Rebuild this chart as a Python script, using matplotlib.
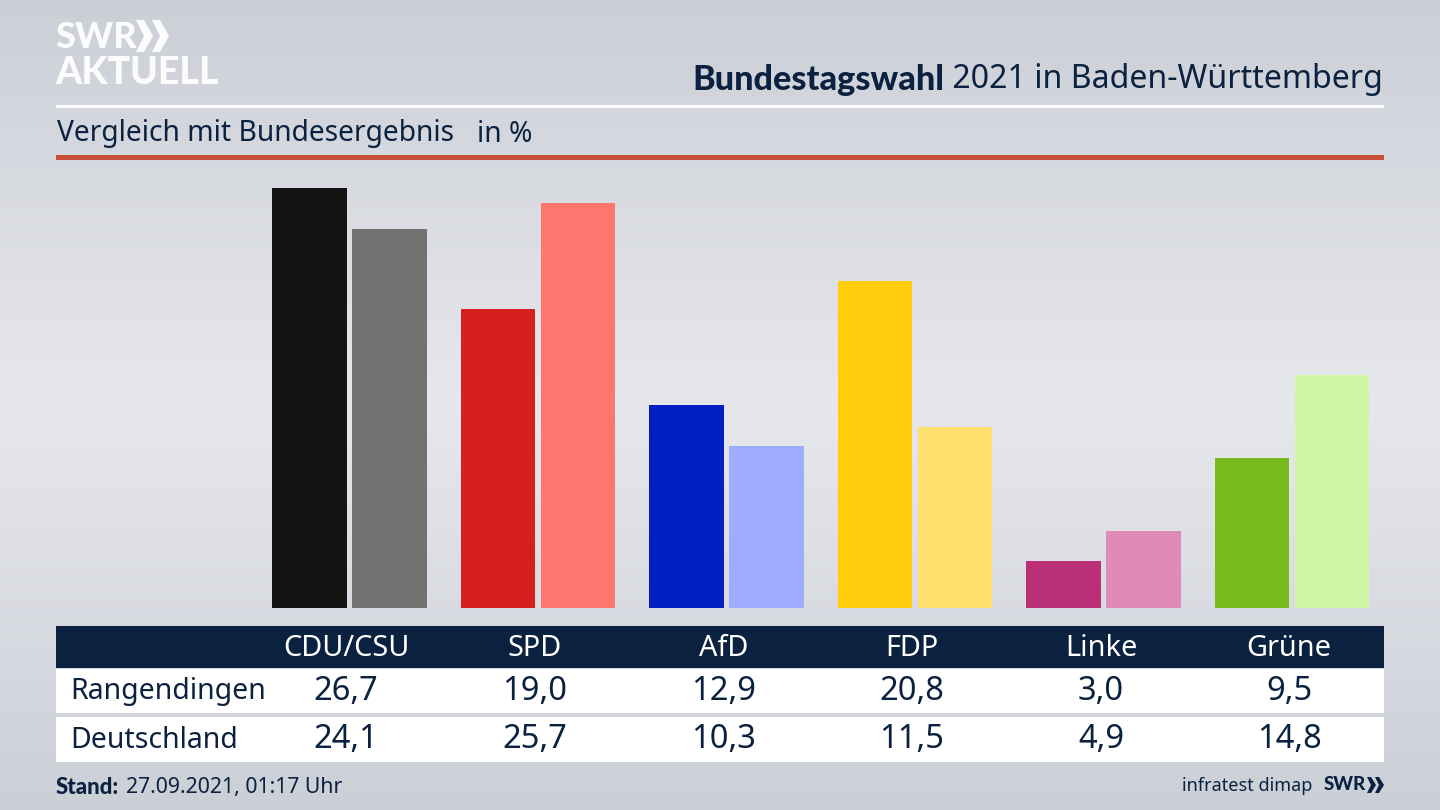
import numpy as np
import matplotlib
matplotlib.use("Agg")
import matplotlib.pyplot as plt
from matplotlib.patches import Rectangle, Polygon

# data
parties = ["CDU/CSU", "SPD", "AfD", "FDP", "Linke", "Grüne"]
rangendingen = [26.7, 19.0, 12.9, 20.8, 3.0, 9.5]
deutschland = [24.1, 25.7, 10.3, 11.5, 4.9, 14.8]
row_names = ["Rangendingen", "Deutschland"]
colors_local = ["#141414", "#d71f1f", "#0020c4", "#ffcd0a", "#bb2f77", "#77bc1f"]
colors_federal = ["#72716f", "#ff7570", "#9eadff", "#ffe06e", "#e08ab8", "#d2f6a8"]

NAVY = "#0b2140"
BOLD = ["Lato", "DejaVu Sans"]
plt.rcParams["font.family"] = ["Noto Sans", "DejaVu Sans"]

fig = plt.figure(figsize=(14.4, 8.1), dpi=100)

# background gradient
bg = fig.add_axes([0, 0, 1, 1], zorder=0)
stops = np.interp(np.linspace(0, 1, 256), [0, 0.5, 1], [0, 1, 0])
low, high = np.array([0xcb, 0xcf, 0xd6]) / 255, np.array([0xe7, 0xe8, 0xed]) / 255
grad = low + (high - low) * stops[:, None]
bg.imshow(grad[:, None, :], aspect="auto", extent=[0, 1440, 810, 0])
bg.set_xlim(0, 1440)
bg.set_ylim(810, 0)
bg.axis("off")

# lines, table bands
bg.add_patch(Rectangle((56, 105), 1328, 2.5, color="white", lw=0))
bg.add_patch(Rectangle((56, 155), 1328, 5, color="#c9503b", lw=0))
bg.add_patch(Rectangle((56, 626), 1328, 42, color=NAVY, lw=0))
bg.add_patch(Rectangle((56, 669), 1328, 44, color="white", lw=0))
bg.add_patch(Rectangle((56, 717), 1328, 45, color="white", lw=0))

# logo
bg.text(55, 37, "SWR", color="white", family=BOLD, fontsize=26, fontweight="black", va="center", ha="left", alpha=0.95)
bg.text(55, 73, "AKTUELL", color="white", family=BOLD, fontsize=27, fontweight="black", va="center", ha="left", alpha=0.95)
for x0 in (136, 152):
    bg.add_patch(Polygon([(x0, 20), (x0 + 8, 20), (x0 + 17, 36), (x0 + 8, 52), (x0, 52), (x0 + 8, 36)],
                         color="white", lw=0, alpha=0.95))

# title
t2 = bg.text(1383, 80, " 2021 in Baden-Württemberg", color=NAVY, fontsize=23.1, va="center", ha="right")
fig.canvas.draw()
box = t2.get_window_extent()
bg.text(box.x0, 80, "Bundestagswahl", color=NAVY, family=BOLD, fontsize=24.7, fontweight="black", va="center", ha="right")
bg.text(57, 134, "Vergleich mit Bundesergebnis", color=NAVY, fontsize=20.3, va="center", ha="left")
bg.text(477, 134, "in %", color=NAVY, fontsize=20.3, va="center", ha="left")

# bars
ax = fig.add_axes([56 / 1440, (810 - 608) / 810, 1328 / 1440, 448 / 810], zorder=1)
ax.patch.set_alpha(0)
step = 188.5
ax.set_xlim((56 - 349.5) / step, (1384 - 349.5) / step)
ax.set_ylim(0, 448 / 15.74)
ax.axis("off")
pos = np.arange(len(parties))
ax.bar(pos - 40 / step, rangendingen, width=74.5 / step, color=colors_local)
ax.bar(pos + 40 / step, deutschland, width=74.5 / step, color=colors_federal)

# table
label_x = [346, 535, 724, 912, 1101, 1289]
for x, name, a, b in zip(label_x, parties, rangendingen, deutschland):
    bg.text(x, 648, name, color="white", fontsize=20.8, ha="center", va="center")
    bg.text(x, 692, f"{a:.1f}".replace(".", ","), color=NAVY, fontsize=23.5, ha="center", va="center")
    bg.text(x, 740, f"{b:.1f}".replace(".", ","), color=NAVY, fontsize=23.5, ha="center", va="center")
bg.text(70, 692, row_names[0], color=NAVY, fontsize=20.5, ha="left", va="center")
bg.text(70, 740, row_names[1], color=NAVY, fontsize=20.5, ha="left", va="center")

# footer
bg.text(56, 787, "Stand:", color=NAVY, family=BOLD, fontsize=16, fontweight="black", ha="left", va="center")
bg.text(126, 787, "27.09.2021, 01:17 Uhr", color=NAVY, fontsize=15.3, ha="left", va="center")
bg.text(1312, 786, "infratest dimap", color=NAVY, fontsize=13, ha="right", va="center")
bg.text(1324, 785, "SWR", color=NAVY, family=BOLD, fontsize=13.5, fontweight="black", ha="left", va="center")
for x0 in (1367, 1375):
    bg.add_patch(Polygon([(x0, 777), (x0 + 4, 777), (x0 + 9, 785), (x0 + 4, 793), (x0, 793), (x0 + 4, 785)],
                         color=NAVY, lw=0))

fig.savefig("out.png", dpi=100)
